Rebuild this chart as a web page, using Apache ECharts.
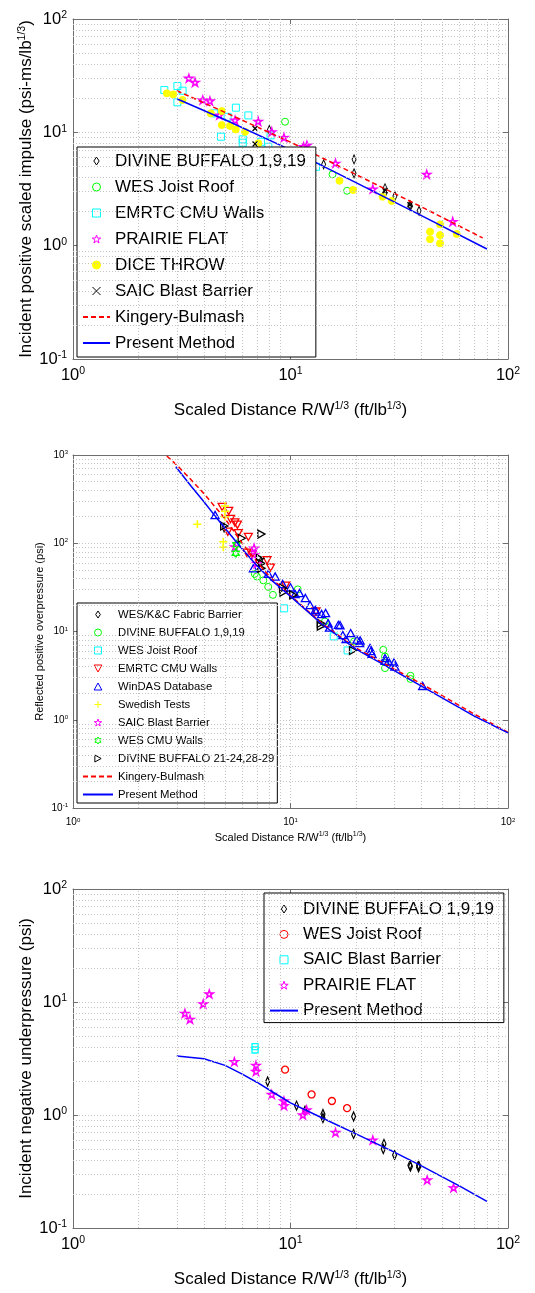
<!DOCTYPE html>
<html><head><meta charset="utf-8">
<script src="https://cdn.jsdelivr.net/npm/echarts@6/dist/echarts.min.js"></script>
<style>html,body{margin:0;padding:0;background:#fff}#c{width:535px;height:1293px}</style>
</head><body><div id="c"></div>
<script>
// ---------------- DATA ----------------
// Chart 1 : incident positive scaled impulse
const c1_divine = [[7.99,10.5],[14.2,5.22],[19.6,5.78],[19.6,4.35],[27.2,3.21],[27.2,2.93],[30.2,2.74],[35.4,2.28],[35.6,2.24],[39.0,2.03]];
const c1_wesJoist = [[9.44,12.4],[15.6,4.26],[18.2,3.05]];
const c1_emrtc = [[2.63,23.6],[3.02,25.6],[3.19,23.3],[3.02,18.4],[4.46,14.7],[4.79,9.15],[5.14,13.7],[5.61,16.5],[6.03,8.67],[6.03,8.1],[6.40,14.1],[7.32,8.26],[7.91,7.46],[8.1,9.4],[13.1,4.97]];
const c1_prairie = [[3.41,30.0],[3.64,27.6],[3.95,19.3],[4.26,18.9],[4.71,14.2],[5.56,12.8],[7.1,12.5],[8.2,10.1],[9.33,9.0],[11.5,7.46],[11.9,7.7],[16.1,5.33],[23.9,3.16],[42.3,4.26],[55.7,1.63]];
const c1_dice = [[2.70,22.1],[2.89,21.6],[3.19,19.3],[4.30,14.7],[4.83,15.4],[4.83,11.6],[5.27,11.4],[5.6,10.6],[6.18,10.1],[7.11,8.0],[16.8,3.74],[19.4,3.10],[26.5,2.70],[29.2,2.48],[43.8,1.33],[43.8,1.14],[48.7,1.54],[48.7,1.24],[48.7,1.05],[58.1,1.27]];
const c1_saic = [[6.87,10.8],[6.87,7.9],[27.2,3.05],[35.4,2.3]];
const c1_kb = [[3.0,23.3],[5,15.0],[10,8.2],[20,4.24],[40,2.2],[76.5,1.17]];
const c1_pm = [[3.02,19.7],[5,12.9],[10,7.0],[20,3.6],[40,1.84],[80,0.935]];

// Chart 2 : reflected positive overpressure
const c2_fabric = [[4.95,150],[7.3,62]];
const c2_divine = [[6.85,45],[7.0,42],[7.5,38],[7.9,32],[8.3,26],[10.8,30],[14.4,13.0],[19.6,7.7],[26.7,6.2],[27.2,5.2],[27.2,4.5],[27.2,3.85],[35.6,3.15],[35.6,2.9]];
const c2_joist = [[9.35,18.3],[15.8,8.8],[18.3,6.1]];
const c2_emrtc = [[4.85,258],[5.2,232],[5.3,188],[5.55,172],[5.7,162],[5.15,135],[5.75,130],[6.4,118],[6.3,78],[6.65,74],[7.8,64],[8.1,53],[9.5,33],[13.1,16.8]];
const c2_windas = [[4.5,209],[6.75,52],[7.9,45],[8.5,42],[9.2,34.5],[10,31.6],[10.5,26.6],[11,27.3],[11.7,24],[12.3,20],[13,17.6],[13.1,16.8],[13.9,15.8],[14.5,16.2],[14.9,12.4],[15.1,11.1],[16.6,11.9],[16.9,11.8],[17.4,9.1],[18,8.2],[18.9,9.6],[20.2,8.1],[20.8,7.4],[20.9,7.9],[23.2,6.5],[23.4,6.0],[23.7,5.6],[27.2,5.0],[27.2,4.65],[28.2,4.6],[29.9,4.45],[30.2,4.0],[40.5,2.42]];
const c2_swedish = [[5.0,264],[5.0,230],[5.0,200],[3.73,164],[4.91,104],[4.91,90]];
const c2_saic = [[5.55,91],[6.8,88],[6.8,74],[7.0,59]];
const c2_wescmu = [[5.65,96],[5.6,77]];
const c2_db2 = [[4.96,157],[5.97,114],[7.35,127],[7.25,67],[7.35,59],[7.35,52],[9.25,31],[9.3,28],[10.3,26],[13.8,12.4],[13.8,11.5],[19.4,6.1]];
const c2_kb = [[2.70,975],[3.0,770],[3.5,520],[4.0,365],[5.0,190],[6.0,100],[7.0,62],[8.0,42],[10,25.5],[14,12.3],[20,6.5],[30,3.75],[40,2.55],[70,1.16],[100,0.72]];
const c2_pm = [[2.97,737],[3.5,440],[4.0,295],[4.42,215],[5.0,148],[6.0,86],[7.0,56],[8.0,40],[10,25],[14,12],[20,6.3],[30,3.6],[40,2.4],[70,1.1],[100,0.71]];

// Chart 3 : incident negative underpressure
const c3_divine = [[7.85,1.98],[10.66,1.21],[11.66,1.09],[14.1,1.02],[14.1,0.94],[19.5,0.97],[19.5,0.68],[26.9,0.555],[26.7,0.50],[30.1,0.443],[35.4,0.36],[35.6,0.35],[38.8,0.36],[38.8,0.345]];
const c3_joist = [[9.44,2.52],[12.5,1.52],[15.5,1.33],[18.2,1.15]];
const c3_saic = [[6.87,4.02],[6.87,3.76]];
const c3_prairie = [[3.27,7.94],[3.45,7.03],[3.97,9.63],[4.23,11.8],[5.52,2.96],[6.94,2.75],[6.94,2.43],[8.2,1.52],[9.33,1.33],[9.33,1.21],[11.4,1.0],[11.85,1.11],[16.1,0.70],[23.9,0.60],[42.5,0.266],[56.2,0.227]];
const c3_pm = [[3.0,3.33],[4.0,3.15],[5.0,2.75],[6.0,2.3],[7.0,1.95],[8.5,1.55],[10,1.28],[14,0.94],[20,0.68],[30,0.47],[40,0.355],[60,0.235],[80,0.172]];

// grid (minor) positions
const xMinor = [2,3,4,5,6,7,8,9,20,30,40,50,60,70,80,90];
const yMinor3dec = [0.2,0.3,0.4,0.5,0.6,0.7,0.8,0.9,2,3,4,5,6,7,8,9,20,30,40,50,60,70,80,90];
const yMinor4dec = [0.2,0.3,0.4,0.5,0.6,0.7,0.8,0.9,2,3,4,5,6,7,8,9,20,30,40,50,60,70,80,90,200,300,400,500,600,700,800,900];

// ---------------- STYLE ----------------
const FONT = '"Liberation Sans", Arial, Helvetica, sans-serif';
const GRID_COLOR = '#c4c4c4';
const AXIS_COLOR = '#6e6e6e';
const PENTA = 'path://M5,0L6.117,3.463L9.755,3.455L6.807,5.587L7.939,9.045L5,6.9L2.061,9.045L3.193,5.587L0.245,3.455L3.883,3.463Z';
const HEXA = 'path://M5,0L6.443,2.5L9.33,2.5L7.887,5L9.33,7.5L6.443,7.5L5,10L3.557,7.5L0.67,7.5L2.113,5L0.67,2.5L3.557,2.5Z';
const XMARK = 'path://M0,0L10,10M10,0L0,10';
const PLUS = 'path://M5,0L5,10M0,5L10,5';
const TRI_DOWN = 'path://M0,0L10,0L5,9Z';
const TRI_UP = 'path://M5,0L10,9L0,9Z';
const TRI_RIGHT = 'path://M0,0L9,5L0,10Z';
const DIAM = 'path://M3,0L6,4.5L3,9L0,4.5Z';
const SQUARE = 'path://M0,0L10,0L10,10L0,10Z';

const grids = [
  {left:73, top:19, width:435, height:340},
  {left:73, top:455, width:435, height:353},
  {left:73, top:889, width:435, height:339}
];
const yRanges = [[0.1,100],[0.1,1000],[0.1,100]];

const big = {labFs:16.5, labLh:18, expFs:10.5, expLh:8, margin:6, xMargin:7, nameFs:17, supFs:10.5};
const small = {labFs:10, labLh:11, expFs:6, expLh:5, margin:5, xMargin:9, nameFs:11, supFs:7};
const axisCfg = [
  {st:big, xName:['Scaled Distance R/W','1/3',' (ft/lb','1/3',')'], xGap:42, yName:['Incident positive scaled impulse (psi-ms/lb','1/3',')'], yGap:37},
  {st:small, xName:['Scaled Distance R/W','1/3',' (ft/lb','1/3',')'], xGap:23, yName:['Reflected positive overpressure (psi)'], yGap:27},
  {st:big, xName:['Scaled Distance R/W','1/3',' (ft/lb','1/3',')'], xGap:42, yName:['Incident negative underpressure (psi)'], yGap:37}
];

function richName(parts){
  return parts.map((p,i)=> (i%2===0 ? '{t|'+p+'}' : '{s|'+p+'}')).join('');
}
function labelOf(st, margin){
  return {
    show:true, margin:margin, color:'#000', fontFamily:FONT,
    formatter: v => '{b|10}{e|' + Math.round(Math.log10(v)) + '}',
    rich:{
      b:{fontSize:st.labFs, lineHeight:st.labLh, fontFamily:FONT, color:'#000'},
      e:{fontSize:st.expFs, lineHeight:st.expLh, verticalAlign:'top', fontFamily:FONT, color:'#000'}
    }
  };
}
function nameStyle(st){
  return {color:'#000', fontFamily:FONT, fontSize:st.nameFs,
    rich:{t:{fontSize:st.nameFs, fontFamily:FONT, color:'#000', lineHeight:st.nameFs+2},
          s:{fontSize:st.supFs, fontFamily:FONT, color:'#000', verticalAlign:'top', lineHeight:st.supFs}}};
}
const axLine = {show:true, lineStyle:{color:AXIS_COLOR, width:1}};
const axTick = {show:true, inside:true, length:5, lineStyle:{color:AXIS_COLOR}};

const xAxes = [], yAxes = [];
grids.forEach((g,gi)=>{
  const c = axisCfg[gi];
  xAxes.push({type:'log', logBase:10, gridIndex:gi, min:1, max:100, position:'bottom',
    axisLine:axLine, axisTick:axTick, axisLabel:labelOf(c.st, c.st.xMargin),
    splitLine:{show:true, lineStyle:{color:GRID_COLOR, type:[1,2], width:1}},
    name:richName(c.xName), nameLocation:'middle', nameGap:c.xGap, nameTextStyle:nameStyle(c.st)});
  xAxes.push({type:'log', logBase:10, gridIndex:gi, min:1, max:100, position:'top',
    axisLine:axLine, axisTick:axTick, axisLabel:{show:false}, splitLine:{show:false}});
  yAxes.push({type:'log', logBase:10, gridIndex:gi, min:yRanges[gi][0], max:yRanges[gi][1], position:'left',
    axisLine:axLine, axisTick:axTick, axisLabel:labelOf(c.st, c.st.margin),
    splitLine:{show:true, lineStyle:{color:GRID_COLOR, type:[1,2], width:1}},
    name:richName(c.yName), nameLocation:'middle', nameGap:c.yGap, nameRotate:90, nameMoveOverlap:false,
    nameTextStyle:nameStyle(c.st)});
  yAxes.push({type:'log', logBase:10, gridIndex:gi, min:yRanges[gi][0], max:yRanges[gi][1], position:'right',
    axisLine:axLine, axisTick:axTick, axisLabel:{show:false}, splitLine:{show:false}});
});

const series = [];
// minor grid lines
[yMinor3dec, yMinor4dec, yMinor3dec].forEach((ym,gi)=>{
  series.push({type:'line', name:'_grid'+gi, xAxisIndex:gi*2, yAxisIndex:gi*2, data:[], z:1, silent:true,
    markLine:{silent:true, symbol:['none','none'], label:{show:false}, animation:false,
      lineStyle:{color:GRID_COLOR, type:[1,2], width:1},
      emphasis:{disabled:true},
      data: xMinor.map(v=>({xAxis:v})).concat(ym.map(v=>({yAxis:v})))}});
});

function sc(gi, name, data, symbol, size, color, filled, bw){
  series.push({type:'scatter', name, xAxisIndex:gi*2, yAxisIndex:gi*2, data, symbol, symbolSize:size,
    symbolKeepAspect:true,
    itemStyle:{color: filled ? color : 'rgba(0,0,0,0)', borderColor:color, borderWidth: bw||1, opacity:1},
    emphasis:{disabled:true}, z:2});
}
function ln(gi, name, data, color, dashed){
  series.push({type:'line', name, xAxisIndex:gi*2, yAxisIndex:gi*2, data, symbol:'none', smooth:false,
    lineStyle:{color, width:1.5, type: dashed ? [5,3] : 'solid'}, itemStyle:{color},
    emphasis:{disabled:true}, z:3});
}
const Z1 = '\u200B', Z2 = '\u200B\u200B';
// chart 1
sc(0,'DIVINE BUFFALO 1,9,19', c1_divine, DIAM, [6,9], '#000', false);
sc(0,'WES Joist Roof', c1_wesJoist, 'circle', 7, '#00ff00', false);
sc(0,'EMRTC CMU Walls', c1_emrtc, SQUARE, 7, '#00ffff', false);
sc(0,'PRAIRIE FLAT', c1_prairie, PENTA, 8, '#ff00ff', false, 1.5);
sc(0,'DICE THROW', c1_dice, 'circle', 7, '#ffff00', true);
sc(0,'SAIC Blast Barrier', c1_saic, XMARK, 5, '#000', false, 1.3);
ln(0,'Kingery-Bulmash', c1_kb, '#ff0000', true);
ln(0,'Present Method', c1_pm, '#0000ff', false);
// chart 2
sc(1,'WES/K&C Fabric Barrier', c2_fabric, DIAM, [6,9], '#000', false);
sc(1,'DIVINE BUFFALO 1,9,19'+Z1, c2_divine, 'circle', 7, '#00ff00', false);
sc(1,'WES Joist Roof'+Z1, c2_joist, SQUARE, 7, '#00ffff', false);
sc(1,'EMRTC CMU Walls'+Z1, c2_emrtc, TRI_DOWN, 8, '#ff0000', false, 1.3);
sc(1,'WinDAS Database', c2_windas, TRI_UP, 8, '#0000ff', false, 1.3);
sc(1,'Swedish Tests', c2_swedish, PLUS, 8, '#ffff00', false, 1.5);
sc(1,'SAIC Blast Barrier'+Z1, c2_saic, PENTA, 8, '#ff00ff', false, 1.5);
sc(1,'WES CMU Walls', c2_wescmu, HEXA, 8, '#00ff00', false, 1.5);
sc(1,'DIVINE BUFFALO 21-24,28-29', c2_db2, TRI_RIGHT, 8, '#000', false, 1.3);
ln(1,'Kingery-Bulmash'+Z1, c2_kb, '#ff0000', true);
ln(1,'Present Method'+Z1, c2_pm, '#0000ff', false);
// chart 3
sc(2,'DIVINE BUFFALO 1,9,19'+Z2, c3_divine, DIAM, [6,9], '#000', false, 1.3);
sc(2,'WES Joist Roof'+Z2, c3_joist, 'circle', 7, '#ff0000', false, 1.3);
sc(2,'SAIC Blast Barrier'+Z2, c3_saic, SQUARE, 6, '#00ffff', false, 1.3);
sc(2,'PRAIRIE FLAT'+Z2, c3_prairie, PENTA, 8, '#ff00ff', false, 1.5);
ln(2,'Present Method'+Z2, c3_pm, '#0000ff', false);

const lineItem = n => ({name:n, itemStyle:{color:'rgba(0,0,0,0)', borderColor:'rgba(0,0,0,0)', borderWidth:0}});
const legendBase = {orient:'vertical', borderColor:'#000', borderWidth:1, backgroundColor:'#fff', borderRadius:0,
  selectedMode:false, itemStyle:{borderWidth:1},
  formatter: n => n.replace(/\u200B/g,'')};
const legends = [
  Object.assign({}, legendBase, {left:77, top:147, padding:[5,10,5,5], itemWidth:27, itemHeight:8, itemGap:8,
    textStyle:{fontSize:17, fontFamily:FONT, color:'#000', lineHeight:18},
    data:['DIVINE BUFFALO 1,9,19','WES Joist Roof','EMRTC CMU Walls','PRAIRIE FLAT','DICE THROW','SAIC Blast Barrier',lineItem('Kingery-Bulmash'),lineItem('Present Method')]}),
  Object.assign({}, legendBase, {left:77, top:603, padding:[5,3,2,5], itemWidth:30, itemHeight:7, itemGap:5,
    textStyle:{fontSize:11.3, fontFamily:FONT, color:'#000', lineHeight:13},
    data:['WES/K&C Fabric Barrier','DIVINE BUFFALO 1,9,19'+Z1,'WES Joist Roof'+Z1,'EMRTC CMU Walls'+Z1,'WinDAS Database','Swedish Tests','SAIC Blast Barrier'+Z1,'WES CMU Walls','DIVINE BUFFALO 21-24,28-29',lineItem('Kingery-Bulmash'+Z1),lineItem('Present Method'+Z1)]}),
  Object.assign({}, legendBase, {left:264, top:893, padding:[7,10,3,5], itemWidth:28, itemHeight:8, itemGap:7.4,
    textStyle:{fontSize:17, fontFamily:FONT, color:'#000', lineHeight:18},
    data:['DIVINE BUFFALO 1,9,19'+Z2,'WES Joist Roof'+Z2,'SAIC Blast Barrier'+Z2,'PRAIRIE FLAT'+Z2,lineItem('Present Method'+Z2)]})
];

const chart = echarts.init(document.getElementById('c'), null, {renderer:'canvas'});
chart.setOption({
  animation:false,
  backgroundColor:'#fff',
  textStyle:{fontFamily:FONT},
  grid: grids.map(g=>Object.assign({containLabel:false}, g)),
  xAxis: xAxes, yAxis: yAxes,
  legend: legends,
  series
});
</script></body></html>
